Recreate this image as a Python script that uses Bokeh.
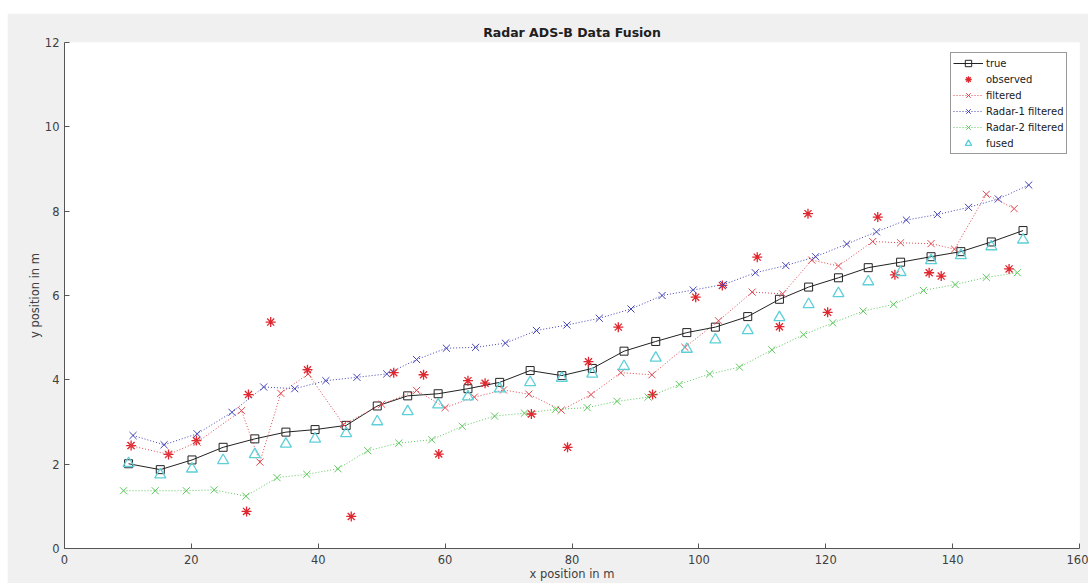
from bokeh.plotting import figure
from bokeh.models import Legend, LegendItem, Range1d, FixedTicker, Spacer
from bokeh.layouts import column, row
from bokeh.embed import file_html
from bokeh.resources import INLINE

# ---- data ----
true_x = [10.1, 15.1, 20.1, 25.0, 30.0, 34.9, 39.5, 44.4, 49.3, 54.1, 58.9, 63.6, 68.6, 73.4, 78.4,
          83.2, 88.2, 93.2, 98.1, 102.6, 107.7, 112.7, 117.3, 122.0, 126.7, 131.8, 136.6, 141.3, 146.1, 151.1]
true_y = [2.01, 1.87, 2.10, 2.40, 2.60, 2.76, 2.82, 2.92, 3.38, 3.62, 3.67, 3.79, 3.94, 4.22, 4.10,
          4.27, 4.68, 4.91, 5.12, 5.25, 5.50, 5.91, 6.20, 6.42, 6.66, 6.79, 6.92, 7.04, 7.27, 7.54]

obs_x = [10.5, 16.4, 20.8, 28.7, 29.0, 32.5, 38.3, 45.2, 51.9, 56.6, 59.0, 63.6, 66.3, 73.6, 79.3,
         82.6, 87.3, 92.7, 99.5, 103.7, 109.2, 112.7, 117.2, 120.3, 128.2, 130.9, 136.3, 138.2, 148.9]
obs_y = [2.44, 2.23, 2.56, 0.88, 3.65, 5.37, 4.24, 0.76, 4.17, 4.12, 2.24, 3.98, 3.92, 3.19, 2.40,
         4.43, 5.25, 3.65, 5.96, 6.24, 6.91, 5.26, 7.94, 5.60, 7.86, 6.49, 6.54, 6.46, 6.63]

filt_x = [10.4, 16.4, 20.9, 27.9, 30.8, 34.1, 38.4, 44.0, 50.0, 55.5, 60.0, 64.6, 69.2, 73.2, 78.3,
          83.0, 87.7, 92.6, 97.8, 103.1, 108.4, 113.2, 117.8, 122.0, 127.4, 131.8, 136.6, 140.3, 145.3, 149.7]
filt_y = [2.44, 2.23, 2.52, 3.27, 2.05, 3.68, 4.14, 2.94, 3.42, 3.75, 3.34, 3.59, 3.76, 3.66, 3.28,
          3.65, 4.17, 4.12, 4.77, 5.40, 6.08, 6.04, 6.84, 6.70, 7.28, 7.25, 7.23, 7.10, 8.40, 8.06]

radar1_x = [10.8, 15.7, 20.9, 26.4, 31.4, 36.3, 41.2, 46.1, 50.8, 55.5, 60.2, 64.8, 69.5, 74.4, 79.2,
            84.3, 89.3, 94.2, 99.1, 103.9, 108.9, 113.7, 118.4, 123.3, 128.0, 132.7, 137.6, 142.5, 147.2, 152.0]
radar1_y = [2.68, 2.46, 2.72, 3.23, 3.83, 3.79, 3.98, 4.06, 4.14, 4.48, 4.75, 4.77, 4.87, 5.17, 5.30,
            5.46, 5.68, 6.00, 6.13, 6.26, 6.54, 6.71, 6.92, 7.22, 7.51, 7.79, 7.92, 8.09, 8.29, 8.62]

radar2_x = [9.3, 14.3, 19.2, 23.6, 28.6, 33.5, 38.2, 43.1, 47.8, 52.7, 57.9, 62.7, 67.8, 72.5, 77.4,
            82.4, 87.1, 92.0, 96.9, 101.7, 106.4, 111.5, 116.5, 121.1, 125.9, 130.7, 135.4, 140.4, 145.3, 150.2]
radar2_y = [1.37, 1.37, 1.37, 1.39, 1.24, 1.68, 1.76, 1.89, 2.32, 2.50, 2.58, 2.90, 3.14, 3.21, 3.30,
            3.34, 3.49, 3.59, 3.89, 4.14, 4.30, 4.71, 5.07, 5.35, 5.63, 5.79, 6.12, 6.26, 6.43, 6.54]

fused_x = true_x
fused_y = [2.02, 1.75, 1.89, 2.09, 2.23, 2.48, 2.60, 2.73, 3.01, 3.25, 3.41, 3.60, 3.79, 3.94, 4.04,
           4.14, 4.32, 4.52, 4.73, 4.95, 5.17, 5.48, 5.79, 6.05, 6.33, 6.55, 6.83, 6.95, 7.16, 7.32]

x_ticks = [0, 20, 40, 60, 80, 100, 120, 140, 160]
y_ticks = [0, 2, 4, 6, 8, 10, 12]

FONT = "DejaVu Sans"
TXT = "#404040"

p = figure(width=1081, height=570, x_range=Range1d(0, 160), y_range=Range1d(0, 12),
           output_backend="svg", toolbar_location=None,
           min_border_left=57, min_border_right=9, min_border_top=29, min_border_bottom=35,
           background_fill_color="white", border_fill_color="#f0f0f0", outline_line_color=None)

p.title.text = "Radar ADS-B Data Fusion"
p.title.align = "center"
p.title.text_font = FONT
p.title.text_font_style = "bold"
p.title.text_font_size = "12.5px"
p.title.text_color = "#202020"
p.title.standoff = 5

p.xgrid.visible = False
p.ygrid.visible = False

for ax in (p.xaxis[0], p.yaxis[0]):
    ax.major_tick_in = 5
    ax.major_tick_out = 0
    ax.minor_tick_line_color = None
    ax.axis_line_color = "#555555"
    ax.major_tick_line_color = "#555555"
    ax.major_label_text_font = FONT
    ax.major_label_text_font_size = "11.5px"
    ax.major_label_text_color = TXT
    ax.axis_label_text_font = FONT
    ax.axis_label_text_font_style = "normal"
    ax.axis_label_text_font_size = "11.5px"
    ax.axis_label_text_color = TXT
    ax.axis_label_standoff = 0

p.xaxis.ticker = FixedTicker(ticks=x_ticks)
p.yaxis.ticker = FixedTicker(ticks=y_ticks)
p.xaxis.major_label_standoff = 6
p.yaxis.major_label_standoff = 5
p.xaxis.axis_label = "x position in m"
p.yaxis.axis_label = "y position in m"

C_TRUE = "#222222"
C_OBS = "#e0262e"
C_FILT = "#e04850"
C_R1 = "#4343b8"
C_R2 = "#5cc85c"
C_FUS = "#5ccfd8"

t_line = p.line(true_x, true_y, line_color=C_TRUE, line_width=1)
t_mk = p.scatter(true_x, true_y, marker="square", size=8, fill_color=None, line_color=C_TRUE, line_width=1)

o_mk = p.scatter(obs_x, obs_y, marker="asterisk", size=10, line_color=C_OBS, line_width=1.3)

f_line = p.line(filt_x, filt_y, line_color=C_FILT, line_width=1, line_dash="1 2")
f_mk = p.scatter(filt_x, filt_y, marker="x", size=10, line_color=C_FILT, line_width=1)

r1_line = p.line(radar1_x, radar1_y, line_color=C_R1, line_width=1, line_dash="1 2")
r1_mk = p.scatter(radar1_x, radar1_y, marker="x", size=10, line_color=C_R1, line_width=1)

r2_line = p.line(radar2_x, radar2_y, line_color=C_R2, line_width=1, line_dash="1 2")
r2_mk = p.scatter(radar2_x, radar2_y, marker="x", size=10, line_color=C_R2, line_width=1)

fu_mk = p.scatter(fused_x, fused_y, marker="triangle", size=11, fill_color=None, line_color=C_FUS, line_width=1.3)

legend = Legend(items=[
    LegendItem(label="true", renderers=[t_line, t_mk]),
    LegendItem(label="observed", renderers=[o_mk]),
    LegendItem(label="filtered", renderers=[f_line, f_mk]),
    LegendItem(label="Radar-1 filtered", renderers=[r1_line, r1_mk]),
    LegendItem(label="Radar-2 filtered", renderers=[r2_line, r2_mk]),
    LegendItem(label="fused", renderers=[fu_mk]),
], location=(886, 394))
legend.label_text_font = FONT
legend.label_text_font_size = "10px"
legend.label_text_color = "#202020"
legend.glyph_width = 30
legend.glyph_height = 16
legend.label_height = 16
legend.label_standoff = 3
legend.spacing = 0
legend.padding = 2
legend.margin = 0
legend.border_line_color = "#333333"
legend.border_line_width = 1
legend.background_fill_color = "white"
legend.background_fill_alpha = 1
p.add_layout(legend)

layout = column(Spacer(width=1088, height=13),
                row(Spacer(width=7, height=570), p))

open("out.html", "w").write(file_html(layout, INLINE))
